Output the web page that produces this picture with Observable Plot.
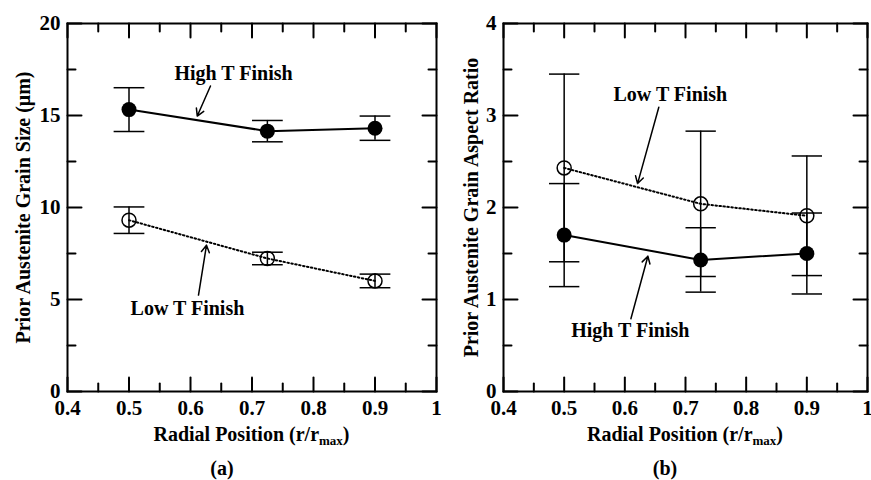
<!DOCTYPE html>
<html><head><meta charset="utf-8">
<script src="https://cdn.jsdelivr.net/npm/d3@7"></script>
<script src="https://cdn.jsdelivr.net/npm/@observablehq/plot@0.6"></script>
<style>
body{margin:0;background:#fff;}
#wrap{position:relative;width:871px;height:480px;overflow:hidden;font-family:"Liberation Serif","Times New Roman",serif;font-weight:bold;color:#000;background:#fff;}
.p{position:absolute;top:0;}
.xl{position:absolute;text-align:center;font-size:20px;line-height:20px;white-space:nowrap;}
.xl sub{font-size:13px;line-height:0;vertical-align:-4px;}
.cap{position:absolute;text-align:center;font-size:20px;line-height:20px;}
</style></head><body><div id="wrap"></div>
<script>
// ---------- data ----------
const radialPos = [0.5, 0.725, 0.9];
const sizeHighT = [15.32, 14.15, 14.31];
const sizeHighTErr = [1.19, 0.58, 0.66];
const sizeLowT = [9.31, 7.23, 6.01];
const sizeLowTErr = [0.72, 0.34, 0.37];
const aspectHighT = [1.70, 1.43, 1.50];
const aspectHighTErr = [0.56, 0.35, 0.44];
const aspectLowT = [2.43, 2.04, 1.91];
const aspectLowTErr = [1.02, 0.79, 0.65];

const xTicks = [0.4, 0.5, 0.6, 0.7, 0.8, 0.9, 1];
const xMinorTicks = [0.45, 0.55, 0.65, 0.75, 0.85, 0.95];
const sizeTicks = [0, 5, 10, 15, 20];
const sizeMinorTicks = [2.5, 7.5, 12.5, 17.5];
const aspectTicks = [0, 1, 2, 3, 4];
const aspectMinorTicks = [0.5, 1.5, 2.5, 3.5];

const seriesNames = ["High T Finish", "Low T Finish"];
const xLabel = "Radial Position (r/r<sub>max</sub>)";
const yLabelA = "Prior Austenite Grain Size (\u03bcm)";
const yLabelB = "Prior Austenite Grain Aspect Ratio";
const panelTags = ["(a)", "(b)"];

// annotation labels (data coordinates) and arrows
const annoTextA = [{text: seriesNames[0], x: 0.670, y: 17.28}, {text: seriesNames[1], x: 0.595, y: 4.48}];
const annoArrowA = [{x1: 0.6325, y1: 16.6, x2: 0.611, y2: 14.97}, {x1: 0.613, y1: 5.24, x2: 0.626, y2: 7.95}];
const annoTextB = [{text: seriesNames[1], x: 0.675, y: 3.23}, {text: seriesNames[0], x: 0.609, y: 0.66}];
const annoArrowB = [{x1: 0.656, y1: 3.09, x2: 0.621, y2: 2.26}, {x1: 0.610, y1: 0.79, x2: 0.638, y2: 1.47}];

// ---------- drawing ----------
const tickShape = {draw(ctx, l) { ctx.moveTo(0, 0); ctx.lineTo(0, -l); }};
const rows = (ys, es) => radialPos.map((x, i) => ({x, y: ys[i], lo: ys[i] - es[i], hi: ys[i] + es[i]}));
const capHalf = 0.025;
const FONT = "'Liberation Serif', 'Times New Roman', serif";

function panel({width, marginLeft, marginRight, yDomain, yTicks, yMinor, high, low, annoText, annoArrow, yLabel, yLabelDx}) {
  const x0 = 0.4, x1 = 1, y0 = yDomain[0], y1 = yDomain[1];
  const ticks = (arr, len, side) => {
    if (side === "bottom") return Plot.vector(arr, {x: d => d, y: y0, length: len, rotate: 0, anchor: "start", shape: tickShape, strokeWidth: 2});
    if (side === "top") return Plot.vector(arr, {x: d => d, y: y1, length: len, rotate: 180, anchor: "start", shape: tickShape, strokeWidth: 2});
    if (side === "left") return Plot.vector(arr, {x: x0, y: d => d, length: len, rotate: 90, anchor: "start", shape: tickShape, strokeWidth: 2});
    return Plot.vector(arr, {x: x1, y: d => d, length: len, rotate: -90, anchor: "start", shape: tickShape, strokeWidth: 2});
  };
  const errMarks = (data) => [
    Plot.ruleX(data, {x: "x", y1: "lo", y2: "hi", strokeWidth: 1.5}),
    Plot.link(data, {x1: d => d.x - capHalf, x2: d => d.x + capHalf, y1: "hi", y2: "hi", strokeWidth: 1.5}),
    Plot.link(data, {x1: d => d.x - capHalf, x2: d => d.x + capHalf, y1: "lo", y2: "lo", strokeWidth: 1.5})
  ];
  return Plot.plot({
    width, height: 480,
    marginLeft, marginRight, marginTop: 23, marginBottom: 89,
    style: {fontFamily: FONT, fontWeight: "bold", color: "black", background: "transparent", overflow: "visible"},
    x: {domain: [x0, x1]},
    y: {domain: yDomain},
    marks: [
      Plot.axisX({ticks: xTicks, tickSize: 0, tickPadding: 9, tickFormat: d => String(d), label: null, fontSize: 21}),
      Plot.axisY({ticks: yTicks, tickSize: 0, tickPadding: 7, tickFormat: d => String(d), label: null, fontSize: 21}),
      Plot.text([yLabel], {frameAnchor: "left", text: d => d, rotate: -90, dx: yLabelDx, textAnchor: "middle", fontSize: 20}),
      ...errMarks(low), ...errMarks(high),
      Plot.line(high, {x: "x", y: "y", strokeWidth: 2}),
      Plot.line(low, {x: "x", y: "y", strokeWidth: 2, strokeDasharray: "1.5,2.5"}),
      Plot.dot(high, {x: "x", y: "y", r: 7.5, fill: "black", stroke: "none"}),
      Plot.dot(low, {x: "x", y: "y", r: 7, fill: "none", stroke: "black", strokeWidth: 1.5}),
      Plot.arrow(annoArrow, {x1: "x1", y1: "y1", x2: "x2", y2: "y2", strokeWidth: 1.5, headLength: 8}),
      Plot.text(annoText, {x: "x", y: "y", text: "text", fontSize: 20}),
      ticks(xTicks, 14, "bottom"), ticks(xTicks, 14, "top"),
      ticks(xMinorTicks, 8, "bottom"), ticks(xMinorTicks, 8, "top"),
      ticks(yTicks, 14, "left"), ticks(yTicks, 14, "right"),
      ticks(yMinor, 8, "left"), ticks(yMinor, 8, "right"),
      Plot.frame({strokeWidth: 2})
    ]
  });
}

const wrap = document.getElementById("wrap");

const pa = panel({width: 445, marginLeft: 67, marginRight: 9, yDomain: [0, 20], yTicks: sizeTicks, yMinor: sizeMinorTicks,
  high: rows(sizeHighT, sizeHighTErr), low: rows(sizeLowT, sizeLowTErr), annoText: annoTextA, annoArrow: annoArrowA,
  yLabel: yLabelA, yLabelDx: -44});
pa.classList.add("p"); pa.style.left = "0px"; wrap.appendChild(pa);

const pb = panel({width: 431, marginLeft: 63, marginRight: 4, yDomain: [0, 4], yTicks: aspectTicks, yMinor: aspectMinorTicks,
  high: rows(aspectHighT, aspectHighTErr), low: rows(aspectLowT, aspectLowTErr), annoText: annoTextB, annoArrow: annoArrowB,
  yLabel: yLabelB, yLabelDx: -32});
pb.classList.add("p"); pb.style.left = "440px"; wrap.appendChild(pb);

function html(cls, left, width, top, content) {
  const d = document.createElement("div");
  d.className = cls; d.style.left = left + "px"; d.style.width = width + "px"; d.style.top = top + "px";
  d.innerHTML = content; wrap.appendChild(d);
}
html("xl", 67, 369, 424, xLabel);
html("xl", 503, 364, 424, xLabel);
html("cap", 67, 310, 458, panelTags[0]);
html("cap", 503, 324, 458, panelTags[1]);
</script></body></html>
